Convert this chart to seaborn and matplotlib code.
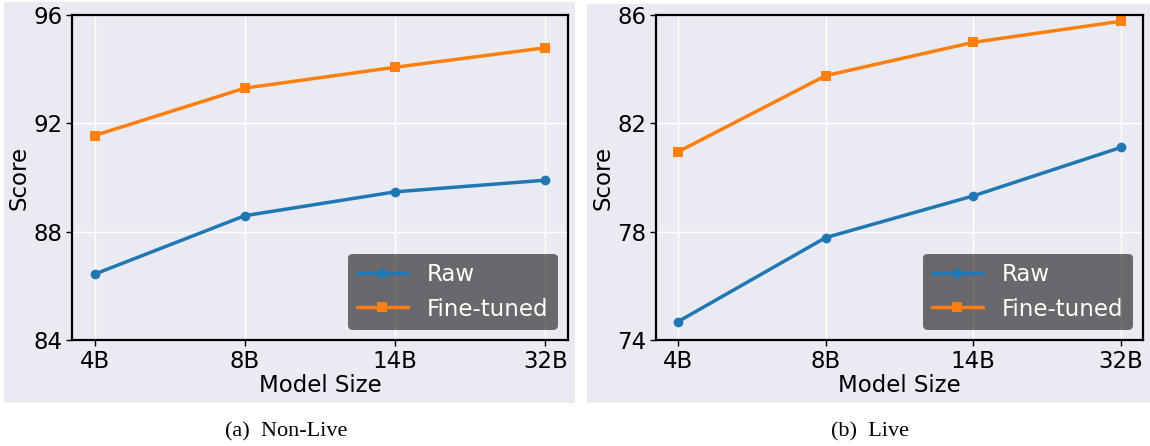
import numpy as np
import pandas as pd
import matplotlib
matplotlib.use("Agg")
import matplotlib.pyplot as plt
from matplotlib.patches import Rectangle
import seaborn as sns

sizes = ["4B", "8B", "14B", "32B"]

nonlive_raw = [86.43, 88.59, 89.47, 89.90]
nonlive_ft = [91.55, 93.30, 94.07, 94.79]
live_raw = [74.68, 77.78, 79.32, 81.11]
live_ft = [80.95, 83.76, 84.99, 85.77]

panels = [
    ("(a)  Non-Live", nonlive_raw, nonlive_ft, [84, 88, 92, 96]),
    ("(b)  Live", live_raw, live_ft, [74, 78, 82, 86]),
]

sns.set_theme(style="darkgrid")
plt.rcParams["font.family"] = ["DejaVu Sans"]
plt.rcParams["text.color"] = "black"
plt.rcParams["axes.labelcolor"] = "black"
plt.rcParams["xtick.color"] = "black"
plt.rcParams["ytick.color"] = "black"

fig = plt.figure(figsize=(11.5, 4.46), dpi=100)
fig.patch.set_facecolor("white")

# grey panel backgrounds (two images placed side by side)
fig.patches.append(Rectangle((0.0035, 0.096), 0.4965, 0.9, transform=fig.transFigure,
                             facecolor="#eaeaf2", edgecolor="none", zorder=-10))
fig.patches.append(Rectangle((0.5105, 0.096), 0.4895, 0.895, transform=fig.transFigure,
                             facecolor="#eaeaf2", edgecolor="none", zorder=-10))

axes_pos = [[0.0626, 0.2377, 0.4313, 0.7287], [0.5704, 0.2377, 0.4235, 0.7287]]
caption_x = [286 / 1150, 870 / 1150]

for i, (cap, raw, ft, yt) in enumerate(panels):
    ax = fig.add_axes(axes_pos[i])
    df = pd.DataFrame({"size": sizes * 2,
                       "score": raw + ft,
                       "kind": ["Raw"] * 4 + ["Fine-tuned"] * 4})
    sns.lineplot(data=df[df.kind == "Raw"], x="size", y="score", ax=ax,
                 color="#1f77b4", marker="o", markersize=7, markeredgewidth=0,
                 linewidth=2.5, label="Raw")
    sns.lineplot(data=df[df.kind == "Fine-tuned"], x="size", y="score", ax=ax,
                 color="#ff7f0e", marker="s", markersize=7, markeredgewidth=0,
                 linewidth=2.5, label="Fine-tuned")
    ax.set_xlim(-0.15, 3.15)
    ax.set_ylim(yt[0], yt[-1])
    ax.set_yticks(yt)
    ax.tick_params(labelsize=16.5, pad=3, bottom=True, left=True,
                   length=4, width=1, color="black")
    ax.set_xlabel("Model Size", fontsize=16.5, labelpad=1)
    ax.set_ylabel("Score", fontsize=16.5, labelpad=2)
    for s in ax.spines.values():
        s.set_visible(True)
        s.set_color("black")
        s.set_linewidth(1.6)
    leg = ax.legend(loc="lower right", fontsize=16.5, facecolor="black",
                    framealpha=0.55, edgecolor="none", labelcolor="white",
                    handlelength=2.2, borderpad=0.4, labelspacing=0.5,
                    handletextpad=0.85, borderaxespad=0.45)
    fig.text(caption_x[i], 0.031, cap, ha="center", va="center",
             fontsize=16, family="Liberation Serif")

fig.savefig("out.png", dpi=100)
